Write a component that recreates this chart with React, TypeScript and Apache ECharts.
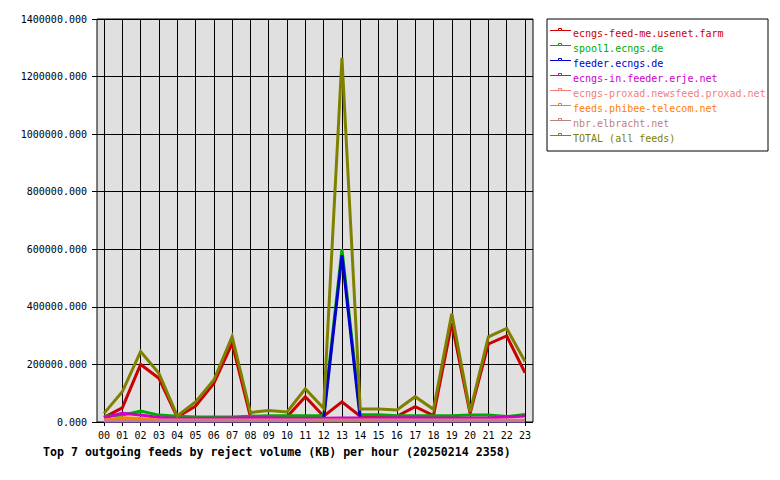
import React, { useEffect, useRef } from "react";
import * as echarts from "echarts";

const hours = ["00","01","02","03","04","05","06","07","08","09","10","11","12","13","14","15","16","17","18","19","20","21","22","23"];

const feedNames = [
  "ecngs-feed-me.usenet.farm",
  "spool1.ecngs.de",
  "feeder.ecngs.de",
  "ecngs-in.feeder.erje.net",
  "ecngs-proxad.newsfeed.proxad.net",
  "feeds.phibee-telecom.net",
  "nbr.elbracht.net",
  "TOTAL (all feeds)",
];

const feedColors = ["#cc0000", "#00aa00", "#0000cc", "#cc00cc", "#f08080", "#ff8000", "#c08080", "#808000"];

const feedMe = [16000, 49000, 200000, 152000, 17000, 55000, 134000, 273000, 18000, 12000, 18000, 88000, 20000, 70000, 20000, 15000, 20000, 53000, 22000, 343000, 30000, 271000, 299000, 171000];
const spool1 = [20000, 24000, 38000, 24000, 20000, 17000, 17000, 17000, 20000, 22000, 22000, 22000, 22000, 600000, 25000, 25000, 22000, 22000, 22000, 22000, 24000, 24000, 19000, 26000];
const feederEcngs = [3000, 3000, 3000, 3000, 3000, 3000, 3000, 3000, 3000, 3000, 3000, 3000, 10000, 580000, 10000, 3000, 3000, 3000, 3000, 3000, 3000, 3000, 3000, 3000];
const erje = [15000, 30000, 24000, 16000, 13000, 13000, 13000, 14000, 15000, 15000, 13000, 13000, 13000, 14000, 14000, 14000, 15000, 15000, 14000, 14000, 14000, 14000, 17000, 21000];
const proxad = [7000, 7000, 7000, 7000, 7000, 7000, 7000, 7000, 7000, 7000, 7000, 7000, 7000, 7000, 7000, 7000, 7000, 7000, 7000, 7000, 7000, 7000, 7000, 7000];
const phibee = [6000, 15000, 12000, 6000, 5000, 5000, 5000, 5000, 5000, 5000, 5000, 5000, 5000, 5000, 5000, 5000, 5000, 5000, 5000, 5000, 5000, 5000, 5000, 5000];
const elbracht = [3500, 3500, 3500, 3500, 3500, 3500, 3500, 3500, 3500, 3500, 3500, 3500, 3500, 3500, 3500, 3500, 3500, 3500, 3500, 3500, 3500, 3500, 3500, 3500];
const total = [30000, 105000, 245000, 169000, 21000, 70000, 146000, 297000, 33000, 40000, 35000, 115000, 48000, 1265000, 45000, 45000, 42000, 88000, 44000, 377000, 36000, 296000, 325000, 210000];

const seriesData = [feedMe, spool1, feederEcngs, erje, proxad, phibee, elbracht, total];

const yTicks = [0, 200000, 400000, 600000, 800000, 1000000, 1200000, 1400000];

const titleText = "Top 7 outgoing feeds by reject volume (KB) per hour (20250214 2358)";

const MONO = "'DejaVu Sans Mono', monospace";

export default function App() {
  const ref = useRef<HTMLDivElement>(null);
  useEffect(() => {
    if (!ref.current) return;
    const chart = echarts.init(ref.current, null, { renderer: "svg" });
    const yMax = yTicks[yTicks.length - 1];
    const yStep = yTicks[1] - yTicks[0];

    const legendGraphics: any[] = [
      {
        type: "rect",
        shape: { x: 547, y: 19, width: 221, height: 132 },
        style: { fill: "#ffffff", stroke: "#000000", lineWidth: 1 },
        z: 10,
      },
    ];
    feedNames.forEach((name, i) => {
      const cy = 33 + 15 * i;
      legendGraphics.push({
        type: "line",
        shape: { x1: 550, y1: cy - 2.5, x2: 571, y2: cy - 2.5 },
        style: { stroke: feedColors[i], lineWidth: 1 },
        z: 11,
      });
      legendGraphics.push({
        type: "rect",
        shape: { x: 558.5, y: cy - 4.5, width: 3, height: 2 },
        style: { fill: "#ffffff", stroke: feedColors[i], lineWidth: 1 },
        z: 12,
      });
      legendGraphics.push({
        type: "text",
        x: 573,
        y: cy,
        style: {
          text: name,
          fill: feedColors[i],
          font: `10px ${MONO}`,
          verticalAlign: "middle",
          align: "left",
        },
        z: 12,
      });
    });

    const option: any = {
      animation: false,
      backgroundColor: "#ffffff",
      grid: [
        { left: 104, top: 19, width: 421, height: 403, show: false },
        {
          left: 97,
          top: 19,
          width: 436,
          height: 403,
          show: true,
          backgroundColor: "#e0e0e0",
          borderColor: "#000000",
          borderWidth: 1,
          z: -1,
        },
      ],
      xAxis: [
        {
          type: "category",
          gridIndex: 0,
          data: hours,
          boundaryGap: false,
          axisLine: { show: false },
          axisTick: { show: true, length: 4, lineStyle: { color: "#000" }, interval: 0 },
          axisLabel: { interval: 0, color: "#000", fontFamily: MONO, fontSize: 10, margin: 8 },
          splitLine: { show: true, interval: 0, lineStyle: { color: "#000", width: 1 } },
        },
        { type: "value", gridIndex: 1, show: false, min: 0, max: 1 },
      ],
      yAxis: [
        { type: "value", gridIndex: 0, min: 0, max: yMax, interval: yStep, show: false },
        {
          type: "value",
          gridIndex: 1,
          min: 0,
          max: yMax,
          interval: yStep,
          axisLine: { show: false },
          axisTick: { show: true, length: 5, lineStyle: { color: "#000" } },
          axisLabel: {
            color: "#000",
            fontFamily: MONO,
            fontSize: 10,
            margin: 10,
            formatter: (v: number) => v.toFixed(3),
          },
          splitLine: { show: true, lineStyle: { color: "#000", width: 1 } },
        },
      ],
      series: feedNames.map((name, i) => ({
        name,
        type: "line",
        xAxisIndex: 0,
        yAxisIndex: 0,
        data: seriesData[i],
        symbol: "none",
        showSymbol: false,
        lineStyle: { color: feedColors[i], width: 3, join: "miter" },
        itemStyle: { color: feedColors[i] },
        z: 2 + i * 0.01,
      })),
      graphic: [
        ...legendGraphics,
        {
          type: "text",
          x: 43,
          y: 452,
          style: {
            text: titleText,
            fill: "#000",
            font: `bold 11.6px ${MONO}`,
            verticalAlign: "middle",
            align: "left",
          },
        },
      ],
    };
    chart.setOption(option);
    return () => chart.dispose();
  }, []);
  return (
    <div
      ref={ref}
      style={{ position: "fixed", left: 0, top: 0, width: 780, height: 480 }}
    />
  );
}
